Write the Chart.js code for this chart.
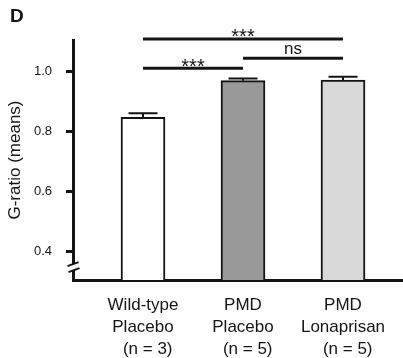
<!DOCTYPE html>
<html>
<head>
<meta charset="utf-8">
<title>G-ratio</title>
<script src="https://cdn.jsdelivr.net/npm/chart.js@4.4.1/dist/chart.umd.min.js"></script>
<style>
  html, body { margin: 0; padding: 0; background: #fff; }
  #wrap { position: relative; width: 403px; height: 358px; }
</style>
</head>
<body>
<div id="wrap"><canvas id="chart"></canvas></div>
<script>
// ---- Data ----
var groupLabels = [
  ['Wild-type', 'Placebo', '  (n = 3)'],
  ['PMD', 'Placebo', '  (n = 5)'],
  ['PMD', 'Lonaprisan', '  (n = 5)']
];
var gRatioMeans = [0.847, 0.970, 0.972];
var gRatioErrors = [0.014, 0.007, 0.011];
var yTicks = [0.4, 0.6, 0.8, 1.0];
// significance brackets: from group, to group, level (g-ratio units), label
var bracketFrom = [0, 0, 1];
var bracketTo = [2, 1, 2];
var bracketLevel = [1.1096, 1.0114, 1.0449];
var bracketText = ['***', '***', 'ns'];

(function () {
  'use strict';

  var FONT = "'Liberation Sans', Arial, sans-serif";
  var INK = '#141414';

  // ---- Brackets, error bars, panel letter, axis break ----
  var annotations = {
    id: 'annotations',
    afterDatasetsDraw: function (chart) {
      var ctx = chart.ctx;
      var xs = chart.scales.x;
      var ys = chart.scales.y;
      ctx.save();

      // error bars (upper only)
      ctx.strokeStyle = INK;
      ctx.lineWidth = 2;
      gRatioMeans.forEach(function (m, i) {
        var px = xs.getPixelForValue(i + 1);
        var top = ys.getPixelForValue(m + gRatioErrors[i]);
        ctx.beginPath();
        ctx.moveTo(px, ys.getPixelForValue(m));
        ctx.lineTo(px, top);
        ctx.moveTo(px - 14.5, top);
        ctx.lineTo(px + 14.5, top);
        ctx.stroke();
      });

      // significance brackets
      ctx.lineWidth = 3;
      ctx.fillStyle = INK;
      ctx.textAlign = 'center';
      ctx.textBaseline = 'alphabetic';
      bracketText.forEach(function (t, i) {
        var x1 = xs.getPixelForValue(bracketFrom[i] + 1);
        var x2 = xs.getPixelForValue(bracketTo[i] + 1);
        var ly = ys.getPixelForValue(bracketLevel[i]);
        ctx.beginPath();
        ctx.moveTo(x1, ly);
        ctx.lineTo(x2, ly);
        ctx.stroke();
        if (t === 'ns') {
          ctx.font = '17px ' + FONT;
          ctx.fillText(t, (x1 + x2) / 2, ly - 4.5);
        } else {
          ctx.font = '20px ' + FONT;
          ctx.fillText(t, (x1 + x2) / 2, ly + 4.5);
        }
      });

      // panel letter
      ctx.font = 'bold 19px ' + FONT;
      ctx.textAlign = 'left';
      ctx.fillText('D', 10, 21.7);
      ctx.restore();
    },
    afterDraw: function (chart) {
      var ctx = chart.ctx;
      var ax = chart.chartArea.left + 0.5;
      var br = chart.scales.y.getPixelForValue(0.346);
      ctx.save();
      ctx.fillStyle = '#fff';
      ctx.fillRect(ax - 3, br - 3, 6, 6);
      ctx.strokeStyle = INK;
      ctx.lineWidth = 2;
      ctx.beginPath();
      ctx.moveTo(ax - 6, br - 1);
      ctx.lineTo(ax + 5, br - 5);
      ctx.moveTo(ax - 5, br + 5);
      ctx.lineTo(ax + 6, br + 1);
      ctx.stroke();
      ctx.restore();
    }
  };

  var data = gRatioMeans.map(function (m, i) { return { x: i + 1, y: m }; });

  new Chart(document.getElementById('chart'), {
    type: 'bar',
    data: {
      datasets: [{
        data: data,
        backgroundColor: ['#ffffff', '#999999', '#d9d9d9'],
        borderColor: INK,
        borderWidth: 2,
        borderSkipped: 'start',
        barThickness: 44
      }]
    },
    options: {
      responsive: true,
      maintainAspectRatio: false,
      animation: false,
      events: [],
      layout: { padding: { top: 40, left: 0, right: 0, bottom: 0 } },
      plugins: {
        legend: { display: false },
        tooltip: { enabled: false }
      },
      scales: {
        x: {
          type: 'linear',
          min: 0.3,
          max: 3.6,
          offset: false,
          z: 1,
          afterBuildTicks: function (scale) {
            scale.ticks = groupLabels.map(function (l, i) { return { value: i + 1 }; });
          },
          afterFit: function (scale) { scale.height = 78; },
          grid: { display: false, drawTicks: false },
          border: { display: true, width: 3, color: INK },
          ticks: {
            autoSkip: false,
            maxRotation: 0,
            padding: 14,
            color: INK,
            font: { family: FONT, size: 17, lineHeight: 1.3 },
            callback: function (value, index) { return groupLabels[index]; }
          }
        },
        y: {
          min: 0.303,
          max: 1.106,
          afterBuildTicks: function (scale) {
            scale.ticks = yTicks.map(function (v) { return { value: v }; });
          },
          afterFit: function (scale) { scale.width = 73; },
          grid: {
            drawOnChartArea: false,
            drawTicks: true,
            tickLength: 7,
            lineWidth: 3,
            color: INK
          },
          border: { display: true, width: 3, color: INK },
          ticks: {
            padding: 14,
            color: INK,
            font: { family: FONT, size: 13 },
            callback: function (value) { return value.toFixed(1); }
          },
          title: {
            display: true,
            text: 'G-ratio (means)',
            color: INK,
            padding: { top: 5, bottom: 0 },
            font: { family: FONT, size: 17 }
          }
        }
      }
    },
    plugins: [annotations]
  });
})();
</script>
</body>
</html>
